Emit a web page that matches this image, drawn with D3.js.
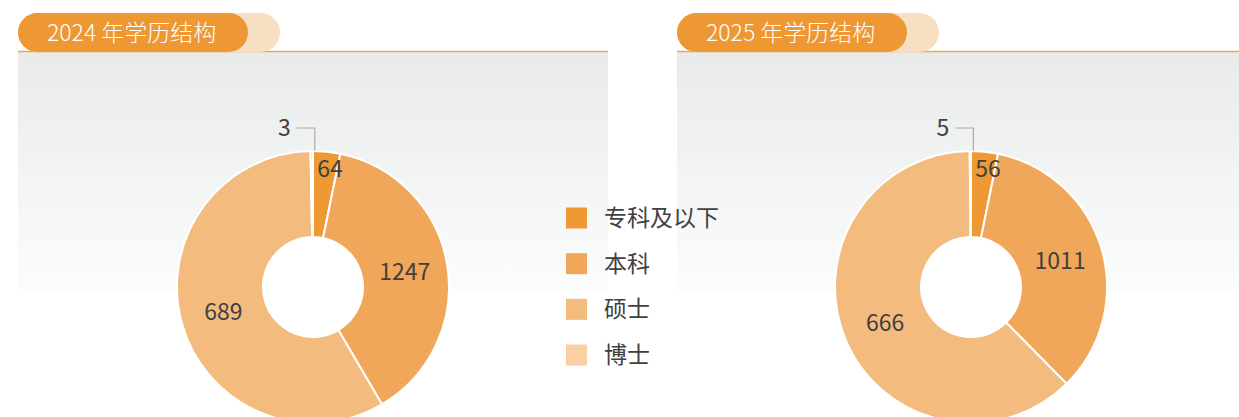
<!DOCTYPE html>
<html>
<head>
<meta charset="utf-8">
<script src="https://d3js.org/d3.v7.min.js"></script>
<style>
  body { margin: 0; background: #fff; }
  text { font-family: "Noto Sans CJK SC", "Noto Sans", sans-serif; }
</style>
</head>
<body>
<script>
// categories and colours
const levels = ["专科及以下", "本科", "硕士", "博士"];
const colors = ["#ee9933", "#f1a75a", "#f3bb7d", "#f8d0a3"];
const years = ["2024", "2025"];

// numbers printed on each donut
const labels2024 = [64, 1247, 689, 3];
const labels2025 = [56, 1011, 666, 5];
const slices2024 = [56, 666, 1011, 5];
const slices2025 = [64, 689, 1247, 3];

const width = 1239, height = 417;
const panels = [
  {year: years[0], x: 18, w: 590, cx: 313, labels: labels2024, slices: slices2024},
  {year: years[1], x: 677, w: 562, cx: 971, labels: labels2025, slices: slices2025}
];
const cy = 287, rOuter = 136, rInner = 50;
const fs = 23;

const svg = d3.select("body").append("svg")
    .attr("width", width)
    .attr("height", height);

const grad = svg.append("defs").append("linearGradient")
    .attr("id", "bg").attr("x1", 0).attr("y1", 0).attr("x2", 0).attr("y2", 1);
grad.append("stop").attr("offset", 0).attr("stop-color", "#e9eaea");
grad.append("stop").attr("offset", 1).attr("stop-color", "#fbfcfc");

const color = d3.scaleOrdinal().domain(levels).range(colors);
const pie = d3.pie().sort(null).value(d => d.size);
const arc = d3.arc().innerRadius(rInner).outerRadius(rOuter);
const smallArc = d3.arc().innerRadius(119).outerRadius(119);

panels.forEach(p => {
  // background and header
  svg.append("rect")
      .attr("x", p.x).attr("y", 52).attr("width", p.w).attr("height", 238)
      .attr("fill", "url(#bg)");
  svg.append("line")
      .attr("x1", p.x).attr("x2", p.x + p.w).attr("y1", 51.5).attr("y2", 51.5)
      .attr("stroke", "#f0a457").attr("stroke-width", 1.5);
  svg.append("rect")
      .attr("x", p.x).attr("y", 13).attr("width", 262).attr("height", 39)
      .attr("rx", 19.5).attr("fill", "#f8dfc3");
  svg.append("rect")
      .attr("x", p.x).attr("y", 13).attr("width", 230).attr("height", 39)
      .attr("rx", 19.5).attr("fill", "#ee9833");
  svg.append("text")
      .attr("x", p.x + 29).attr("y", 33).attr("dy", "0.35em")
      .attr("fill", "#fff").attr("font-size", fs).attr("font-weight", 300)
      .attr("xml:space", "preserve")
      .text(p.year + " 年学历结构");

  // donut
  const rows = levels.map((name, i) => ({name, size: p.slices[i], label: p.labels[i]}));
  const arcs = pie(rows);
  const g = svg.append("g").attr("transform", `translate(${p.cx},${cy})`);

  g.append("circle").attr("r", rInner).attr("fill", "#fff");

  g.selectAll("path").data(arcs).join("path")
      .attr("d", arc)
      .attr("fill", d => color(d.data.name))
      .attr("stroke", "#fff")
      .attr("stroke-width", 2);

  arcs.forEach(d => {
    const span = (d.endAngle - d.startAngle) * 180 / Math.PI;
    const mid = (d.startAngle + d.endAngle) / 2;
    if (span < 5) {
      // outside label with leader line
      const px = Math.sin(mid) * rOuter + 3, py = -Math.cos(mid) * rOuter;
      const ly = -rOuter - 23;
      g.append("path")
          .attr("d", `M${px},${py}L${px},${ly}L${px - 18},${ly}`)
          .attr("fill", "none").attr("stroke", "#aaaaaa").attr("stroke-width", 1.2);
      g.append("text")
          .attr("x", px - 24).attr("y", ly).attr("dy", "0.35em")
          .attr("text-anchor", "end")
          .attr("fill", "#404040").attr("font-size", fs)
          .text(d.data.label);
    } else {
      const c = span < 25 ? smallArc.centroid(d) : arc.centroid(d);
      g.append("text")
          .attr("x", c[0] + (span < 25 ? 5 : 0)).attr("y", c[1]).attr("dy", "0.35em")
          .attr("text-anchor", "middle")
          .attr("fill", "#404040").attr("font-size", fs)
          .text(d.data.label);
    }
  });
});

// legend
const ly = d3.scalePoint().domain(levels).range([218, 355]);
const legend = svg.append("g").selectAll("g").data(levels).join("g")
    .attr("transform", d => `translate(566,${ly(d)})`);
legend.append("rect")
    .attr("x", 0).attr("y", -10.5).attr("width", 21).attr("height", 21)
    .attr("fill", d => color(d));
legend.append("text")
    .attr("x", 38).attr("y", 0).attr("dy", "0.35em")
    .attr("fill", "#404040").attr("font-size", fs)
    .text(d => d);
</script>
</body>
</html>
